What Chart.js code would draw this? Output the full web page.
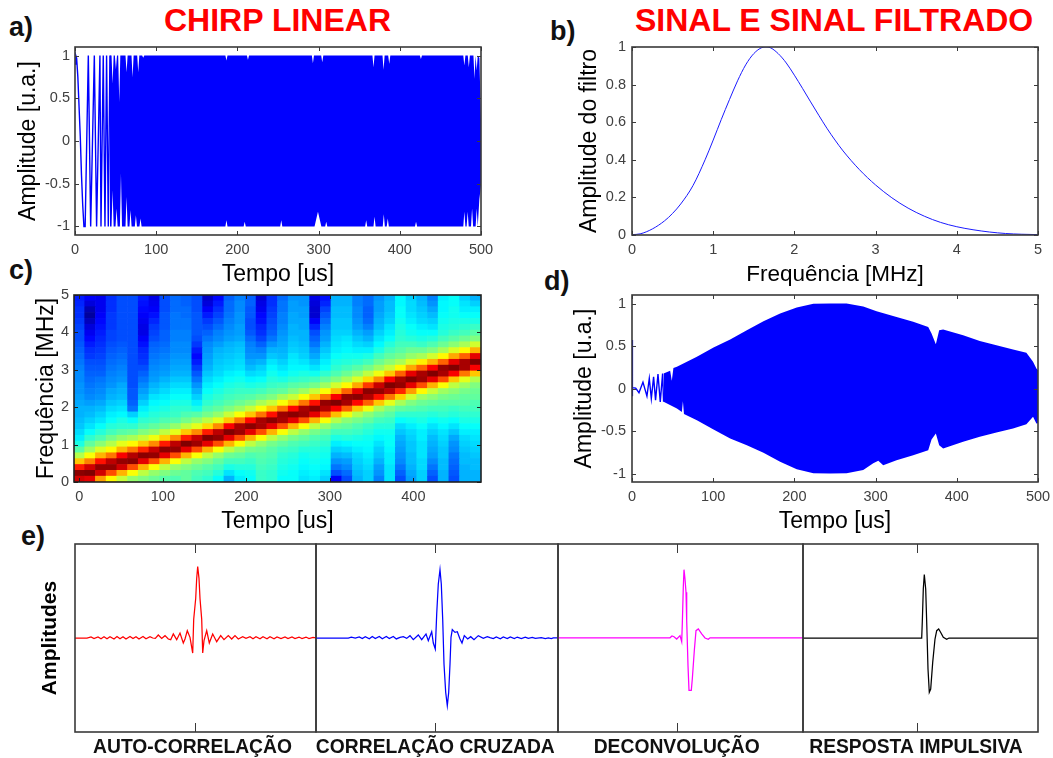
<!DOCTYPE html>
<html lang="pt">
<head>
<meta charset="utf-8">
<title>Chirp linear</title>
<script src="https://cdn.jsdelivr.net/npm/chart.js@4/dist/chart.umd.min.js"></script>
<style>
html,body{margin:0;padding:0;background:#fff;}
#page{position:relative;width:1053px;height:758px;overflow:hidden;background:#fff;filter:blur(.45px);font-family:"Liberation Sans",Arial,sans-serif;}
canvas{position:absolute;display:block;}
.t{position:absolute;white-space:nowrap;font-weight:bold;line-height:1;}
.big{color:#ff0000;font-size:32px;}
.let{color:#111;font-size:27px;}
</style>
</head>
<body>
<div id="page">
  <div class="t big" style="left:164px;top:3.5px">CHIRP LINEAR</div>
  <div class="t big" style="left:635px;top:3.5px">SINAL E SINAL FILTRADO</div>
  <div class="t let" style="left:9px;top:14px">a)</div>
  <div class="t let" style="left:550px;top:18px">b)</div>
  <div class="t let" style="left:9px;top:257px">c)</div>
  <div class="t let" style="left:544px;top:268px">d)</div>
  <div class="t let" style="left:21px;top:523px">e)</div>
</div>
<script>
/* ---------- panel a: linear chirp ---------- */
const chirpEarlyT = [0,1,2,3.5,5,6.5,8,9.5,11,12.5,16.4,19.3,23.8,26.6,30.7,32,34.8,36.9,38.9,41,43];
const chirpEarlyV = [.9,1,.97,.75,.4,.05,-.4,-.75,-1,-1,1,-1,1,-1,1,-1,1,-1,1,-1,1];
const chirpUpperT = [43,45,46.3,47.6,49.1,50.4,51.7,53.2,54.5,55.8,62.2,63.5,64.8,69.6,70.9,72.2,76.6,77.9,79.2,82.7,84,85.3,185.2,186.5,187.8,211.7,213,214.3,291.7,293,294.3,303.2,304.5,305.8,366.3,367.6,368.9,378.7,380,381.3,385.7,387,388.3,424.7,426,427.3,478.2,479.5,480.8,483.7,485,486.3,490.7,492,493.3,494.7,496,498,500];
const chirpUpperV = [1,1,.67,1,1,.84,1,1,.455,1,1,.805,1,1,.747,1,1,.805,1,1,.973,1,1,.942,1,1,.95,1,1,.91,1,1,.922,1,1,.864,1,1,.833,1,1,.903,1,1,.96,1,1,.883,1,1,.864,1,1,.728,1,.825,1,.97,.24];
const chirpLowerT = [43,45,46.3,47.6,49.9,51.2,52.5,55.3,56.6,57.9,62.2,63.5,64.8,67.1,68.4,69.7,73.7,75,76.3,79.4,80.7,82,185.2,186.5,187.8,207.7,209,210.3,252.7,254,255.3,295,299.2,303.4,308.1,309.4,310.7,357.3,358.6,359.9,367.6,368.9,370.2,379,380.3,381.6,383.9,385.2,386.5,418.7,420,421.3,478.2,479.5,480.8,482.3,483.6,484.9,487.7,489,490.3,493.4,494.7,496,498,500];
const chirpLowerV = [-1,-1,-.576,-1,-1,-.79,-1,-1,-.381,-1,-1,-.654,-1,-1,-.81,-1,-1,-.868,-1,-1,-.907,-1,-1,-.926,-1,-1,-.945,-1,-1,-.926,-1,-1,-.829,-1,-1,-.945,-1,-1,-.926,-1,-1,-.887,-1,-1,-.856,-1,-1,-.907,-1,-1,-.945,-1,-1,-.829,-1,-1,-.829,-1,-1,-.79,-1,-1,-.79,-1,-.68,-.52];

/* ---------- panel b: filter ---------- */
const filterF = [0,.1,.25,.4,.5,.6,.75,.9,1,1.1,1.2,1.3,1.4,1.5,1.6,1.65,1.7,1.8,1.9,2,2.1,2.2,2.3,2.4,2.5,2.6,2.8,3,3.2,3.4,3.6,3.8,4,4.2,4.4,4.6,4.8,5];
const filterA = [.002,.006,.032,.075,.115,.165,.262,.40,.505,.615,.72,.82,.905,.965,.997,1,.997,.965,.915,.85,.78,.708,.637,.568,.505,.447,.348,.266,.198,.143,.1,.067,.044,.028,.016,.008,.004,.002];

/* ---------- panel c: spectrogram, one column per time, low to high frequency ---------- */
const specTimes = [0,13,26,38,51,64,77,90,102,115,128,141,154,166,179,192,205,218,230,243,256,269,282,294,307,320,333,346,358,371,384,397,410,422,435,448,461,474];
const spectrogram = [
[92,99,85,68,55,46,40,36,34,32,31,30,30,29,28,27,27,26,26,25,24,23,22,21,20,20,19,18,17,17,16,15],
[90,100,92,75,62,53,47,42,38,35,33,31,30,28,26,25,24,23,22,21,20,18,17,15,13,11,9,6,3,5,9,12],
[72,92,98,86,70,59,51,45,41,38,35,33,31,29,27,26,25,24,22,21,20,19,18,17,16,15,14,13,12,11,11,11],
[63,80,98,94,76,63,55,49,44,41,38,36,34,32,30,29,27,26,25,24,23,22,21,20,19,19,18,18,18,17,17,17],
[57,70,92,98,88,70,60,52,46,42,40,37,35,33,31,30,29,27,26,25,24,23,22,21,20,20,20,20,20,20,20,20],
[52,62,80,99,95,76,63,54,47,42,38,33,24,22,21,21,20,20,20,20,20,20,20,20,20,20,20,20,20,20,20,20],
[50,56,70,90,99,84,68,57,50,45,42,39,36,33,30,28,26,24,22,20,18,17,16,14,12,10,10,11,12,13,14,15],
[48,52,62,80,98,93,74,61,52,47,43,41,39,37,35,32,30,28,27,26,25,24,23,22,20,19,18,16,14,12,11,10],
[46,50,56,70,90,99,85,67,56,49,45,42,40,38,36,34,32,30,28,27,26,25,24,23,22,22,21,21,21,20,20,20],
[45,48,52,62,80,98,94,74,60,52,46,43,42,40,38,36,34,32,30,29,28,27,26,26,25,25,24,24,24,23,23,23],
[47,47,50,56,70,90,100,85,68,56,49,45,42,40,38,36,34,32,30,29,28,27,26,26,25,25,24,24,23,23,22,22],
[44,45,48,52,62,80,97,93,74,60,52,46,40,36,33,30,27,24,21,18,15,13,15,18,20,21,21,21,21,20,20,20],
[42,44,46,50,56,70,90,100,85,66,56,49,45,42,40,38,36,34,32,30,29,28,27,26,24,22,20,18,15,12,9,7],
[38,41,44,47,52,62,80,98,94,74,60,52,47,44,42,40,38,36,34,33,32,31,30,28,26,25,23,21,19,17,15,13],
[30,35,40,44,48,56,70,90,100,88,68,57,50,46,44,42,40,38,36,34,33,32,31,30,28,27,26,25,24,23,23,22],
[36,38,41,44,47,52,62,80,97,96,76,62,53,48,45,43,41,39,37,35,34,33,32,31,29,28,28,27,27,26,26,25],
[38,39,41,43,45,49,56,70,90,99,87,68,57,50,46,43,40,37,34,31,29,27,26,25,23,21,20,20,21,21,22,22],
[43,43,44,45,46,48,52,62,80,96,96,76,62,54,48,44,41,38,35,33,30,27,25,22,19,17,16,14,13,11,10,8],
[42,42,43,44,45,46,49,56,70,90,99,86,68,57,50,46,43,41,39,37,35,32,30,27,24,22,21,20,19,18,17,17],
[38,39,40,41,42,44,47,52,62,80,96,97,76,62,54,47,44,40,37,35,33,31,30,29,28,27,26,25,25,24,24,23],
[38,38,39,40,41,43,45,49,56,70,90,99,87,68,57,50,46,42,39,37,36,35,33,32,31,30,30,29,29,28,28,27],
[35,36,37,38,39,41,44,47,52,62,80,97,96,76,62,53,47,43,40,37,35,33,32,31,30,30,29,29,28,28,27,27],
[36,37,38,39,40,41,43,45,49,56,70,90,99,86,68,57,49,44,39,35,32,29,27,24,22,20,16,12,8,8,9,10],
[33,35,37,38,39,40,42,44,47,52,62,80,95,98,76,62,53,47,42,38,36,34,32,30,28,27,25,23,21,19,16,14],
[12,20,24,27,30,33,36,40,44,48,55,69,88,100,88,69,58,50,45,42,40,38,36,35,34,33,32,32,31,31,30,30],
[20,23,26,28,31,34,37,41,44,47,51,61,78,96,98,78,63,54,48,44,41,39,37,36,35,33,32,32,31,31,30,30],
[30,31,32,33,34,36,38,40,43,45,49,55,68,87,99,90,71,59,51,46,42,39,36,34,32,30,28,27,26,26,25,25],
[33,33,34,35,36,37,38,39,41,43,47,51,61,78,95,99,82,66,56,49,44,40,36,33,30,28,25,23,22,22,23,23],
[25,27,28,30,32,33,35,37,39,41,44,48,54,68,86,98,93,74,61,53,48,44,40,37,35,33,31,30,29,28,28,27],
[35,35,35,36,36,37,38,38,39,41,43,46,50,60,76,94,100,88,68,57,51,47,44,41,38,36,35,33,32,31,31,30],
[20,22,24,26,27,28,29,30,32,34,38,42,47,54,67,84,98,96,78,63,54,49,46,44,42,41,40,39,38,38,37,37],
[28,29,30,31,31,32,32,33,34,36,39,42,46,50,58,72,90,100,90,71,59,52,48,44,41,39,38,36,35,34,34,33],
[33,33,34,34,35,35,35,36,36,38,40,42,45,48,53,63,80,97,96,78,64,54,48,43,40,38,36,34,33,32,31,30],
[20,22,24,26,28,29,30,31,33,35,38,41,44,47,51,57,70,90,100,88,70,58,50,45,41,38,35,33,31,29,27,25],
[30,30,31,31,32,32,33,34,35,37,39,42,44,46,49,53,62,80,96,98,78,63,54,48,44,41,40,39,38,37,37,36],
[20,21,22,23,24,26,27,29,32,35,38,41,43,46,48,51,56,68,88,100,90,71,59,51,46,43,41,40,39,39,38,38],
[30,30,30,31,31,32,33,34,36,38,40,42,44,46,47,49,53,60,76,96,96,78,63,54,48,44,42,40,38,36,35,33],
[30,30,31,31,32,33,34,35,36,38,40,42,44,45,47,48,50,55,68,88,100,90,70,58,50,46,43,40,38,36,33,30]
];
const specRowHeight = 5/32;

/* ---------- panel d: filtered signal ---------- */
const filtEarlyT = [0,0,1,4.5,8.6,13.5,18.4,21.3,23.8,26.6,29,32,34.8,37.7,38.9];
const filtEarlyV = [.57,-.09,.01,.005,-.05,.075,-.09,.118,-.118,.137,-.137,.17,-.157,.176,-.157];
const filtUpperT = [38.9,47,49,51,55.3,79.9,100.4,120.9,141.4,161.9,182.4,202.9,223.4,243.9,264.3,284.8,301.2,325.8,346.3,364.8,368.9,374.2,378.3,383.2,407.8,428.3,448.8,469.3,485.7,493.9,498,500];
const filtUpperV = [.176,.21,.09,.24,.255,.373,.482,.576,.686,.792,.882,.953,.998,1,1,.965,.91,.84,.784,.725,.647,.522,.686,.694,.627,.56,.51,.459,.42,.314,.235,.216];
const filtLowerT = [38.9,55.3,61.4,62.7,64,79.9,100.4,120.9,141.4,161.9,182.4,202.9,223.4,243.9,264.3,284.8,297.1,303.3,309.4,325.8,346.3,364.8,368.9,374.2,378.3,383.2,407.8,428.3,448.8,469.3,485.7,493.9,498,500];
const filtLowerV = [-.157,-.235,-.275,-.15,-.3,-.373,-.482,-.588,-.667,-.757,-.863,-.949,-.998,-1,-.998,-.96,-.88,-.85,-.902,-.843,-.784,-.725,-.6,-.529,-.667,-.706,-.627,-.569,-.518,-.471,-.42,-.333,-.412,-.41];

/* ---------- panel e: correlation traces, lag 0 at the middle tick ---------- */
const autoLag = [-120,-108,-104,-101,-97,-94,-91,-88,-85,-81,-78,-75,-72,-69,-65,-62,-59,-56,-52,-49,-45,-42.3,-39.7,-36.7,-33.3,-30,-26.7,-24.3,-21.7,-18.3,-15,-11.7,-10,-7.7,-5,-2.3,-1.3,.7,1.7,2.7,4,5,6.7,7.7,9,11.7,14.3,17.7,21.7,25.7,29,33.3,36.7,40,43.3,47.7,51,55,58,61,65,68,72,75,79,82,86,90,93,97,100,104,107,111,114,118,121];
const autoAmp = [0,0,.012,-.006,.012,-.008,.014,-.008,.014,-.01,.016,-.008,.014,-.01,.016,-.006,.014,-.01,.016,-.008,.014,0,-.004,.032,-.004,.025,-.011,-.018,.043,-.018,.053,-.053,-.011,.078,.007,-.16,.2,.42,.635,.76,.635,.42,.2,-.16,-.028,.078,-.053,.043,-.039,.025,-.018,.025,-.011,.025,-.011,.014,-.004,.014,-.008,.014,-.008,.014,-.008,.014,-.008,.012,-.006,.012,-.006,.012,-.006,.01,-.006,.01,-.006,.006,0];
const crossLag = [-119.3,-87,-84,-80,-76,-73,-70,-66,-63,-60,-56,-53,-49,-46,-42,-39,-35.3,-32,-28.6,-25.3,-22,-17,-13.6,-9.3,-7,-3.6,-2,0,1.4,3,4.7,6,7.4,8.7,10.4,12,13.4,14.7,15.7,17,19.7,22,24.7,26.7,29,32.4,35.4,38.7,43,48,52,54.7,58,61,65,68,72,75,79,82,86,90,93,97,100,106,110,113,116,118,122.7];
const crossAmp = [0,0,.008,0,.012,-.006,.014,-.008,.016,-.006,.016,-.008,.016,-.006,.016,-.01,.007,.014,-.004,.025,-.018,.032,-.018,.043,-.028,.067,-.053,-.117,.255,.574,.727,.574,.2,-.277,-.578,-.72,-.578,-.277,.007,.089,.06,.067,-.011,-.053,.025,-.011,.014,-.018,.025,-.004,.014,.004,-.006,.012,-.008,.012,-.006,.012,-.006,.01,-.006,.01,-.004,.006,-.004,.004,-.006,0,-.006,.002,0];
const deconvLag = [-118.7,-6.7,-4.7,-2.7,0,3.3,5,5.6,6.6,7.3,8.3,9.3,10,11.3,12.3,14.6,15.6,17.6,19.3,21.6,25,28.3,31.6,33.3,126.3];
const deconvAmp = [.002,.002,.021,.014,-.011,.025,-.039,.149,.539,.727,.628,.486,.184,-.294,-.557,-.557,-.436,-.135,.078,.096,.043,0,-.014,.002,.002];
const impulseLag = [-114,4.7,5.3,6.3,7.3,8.7,9.7,11,12.3,13.7,15.7,18,19.7,21.7,24,26.3,29.7,32,121];
const impulseAmp = [0,0,.174,.521,.674,.521,.167,-.33,-.578,-.543,-.259,-.011,.078,.096,.053,.007,-.014,0,0];

/* ---------- ticks and labels ---------- */
const timeTicks = [0,100,200,300,400,500];
const spectroTimeTicks = [0,100,200,300,400];
const amplitudeTicks = [-1,-.5,0,.5,1];
const filterAmpTicks = [0,.2,.4,.6,.8,1];
const mhzTicks = [0,1,2,3,4,5];
const panelNames = ['AUTO-CORRELAÇÃO','CORRELAÇÃO CRUZADA','DECONVOLUÇÃO','RESPOSTA IMPULSIVA'];

/* ---------- helpers ---------- */
const SANS = '"Liberation Sans", Arial, sans-serif';
const page = document.getElementById('page');
const xy = (xs, ys) => xs.map((x, i) => ({x, y: ys[i]}));

function jet(p){
  const v = p/100;
  const ch = d => Math.round(255*Math.max(0, Math.min(1, 1.5 - Math.abs(4*v - d))));
  return `rgb(${ch(3)},${ch(2)},${ch(1)})`;
}

function framePlugin(opt){
  return {
    id:'frame',
    afterDatasetsDraw(chart){
      const {ctx, chartArea:a, scales} = chart;
      ctx.save();
      ctx.strokeStyle = opt.color || '#3a3a3a';
      ctx.lineWidth = 1;
      ctx.beginPath();
      Object.values(scales).forEach(s => {
        if (!s.options.display || s.options.noMarks) return;
        s.ticks.forEach(t => {
          const p = Math.round(s.getPixelForValue(t.value)) + .5;
          if (s.isHorizontal()){
            ctx.moveTo(p, a.top); ctx.lineTo(p, a.top + opt.len);
            ctx.moveTo(p, a.bottom); ctx.lineTo(p, a.bottom - opt.len);
          } else {
            ctx.moveTo(a.left, p); ctx.lineTo(a.left + opt.len, p);
            ctx.moveTo(a.right, p); ctx.lineTo(a.right - opt.len, p);
          }
        });
      });
      ctx.stroke();
      ctx.lineWidth = 1.6;
      ctx.strokeRect(a.left, a.top, a.right - a.left, a.bottom - a.top);
      ctx.restore();
    }
  };
}

function axis(o){
  const bottom = o.pos === 'bottom';
  return {
    type:'linear', position:o.pos, min:o.min, max:o.max, offset:false, noMarks:!!o.noMarks,
    afterFit:s => {
      if (bottom) s.height = o.size; else s.width = o.size;
      s.paddingTop = s.paddingBottom = s.paddingLeft = s.paddingRight = 0;
    },
    afterBuildTicks:s => { s.ticks = o.ticks.map(v => ({value:v})); },
    grid:{display:false, drawTicks:false},
    border:{display:false},
    ticks:{display:o.showTicks !== false, autoSkip:false, maxRotation:0, minRotation:0, padding:o.pad,
      labelOffset:o.labelOffset || 0,
      color:o.tickColor || '#404040', font:o.tickFont || {family:SANS, size:14.5},
      callback:o.cb || (v => String(v))},
    title:{display:!!o.title, text:o.title, color:'#000',
      font:o.titleFont || {family:SANS, size:23}, padding:{top:o.titlePad || 0, bottom:0}}
  };
}

function mount(box, config){
  const c = document.createElement('canvas');
  c.width = box.w; c.height = box.h;
  c.style.left = box.x + 'px'; c.style.top = box.y + 'px';
  c.style.width = box.w + 'px'; c.style.height = box.h + 'px';
  page.appendChild(c);
  config.options = Object.assign({
    responsive:false, animation:false, devicePixelRatio:1,
    plugins:{legend:{display:false}, tooltip:{enabled:false}, title:{display:false}},
  }, config.options);
  return new Chart(c, config);
}

const lineSet = (data, color, extra) => Object.assign(
  {data, borderColor:color, backgroundColor:color, borderWidth:1, pointRadius:0, tension:0, fill:false}, extra);

function envelopeChart(box, pad, xAxis, yAxis, early, upper, lower){
  mount(box, {
    type:'line',
    data:{datasets:[
      lineSet(early,'#0000ff',{borderWidth:1.4}),
      lineSet(upper,'#0000ff',{borderWidth:0}),
      lineSet(lower,'#0000ff',{borderWidth:0, fill:'-1'})
    ]},
    options:{layout:{padding:pad}, scales:{x:xAxis, y:yAxis}},
    plugins:[framePlugin({len:4})]
  });
}

/* a */
envelopeChart({x:0,y:40,w:500,h:248},{top:7,right:19,left:0,bottom:0},
  axis({pos:'bottom',min:0,max:500,ticks:timeTicks,size:53,pad:6.5,title:'Tempo [us]'}),
  axis({pos:'left',min:-1.1,max:1.1,ticks:amplitudeTicks,size:75,pad:5,title:'Amplitude [u.a.]',titlePad:15}),
  xy(chirpEarlyT,chirpEarlyV), xy(chirpUpperT,chirpUpperV), xy(chirpLowerT,chirpLowerV));

/* b */
mount({x:545,y:40,w:508,h:248},{
  type:'line',
  data:{datasets:[lineSet(xy(filterF,filterA),'#1a1aff',{cubicInterpolationMode:'monotone'})]},
  options:{layout:{padding:{top:7,right:15,left:0,bottom:0}}, scales:{
    x:axis({pos:'bottom',min:0,max:5,ticks:mhzTicks,size:53,pad:6.5,title:'Frequência [MHz]',titleFont:{family:SANS,size:22.5}}),
    y:axis({pos:'left',min:0,max:1,ticks:filterAmpTicks,size:87,pad:6,title:'Amplitude do filtro',titlePad:31})
  }},
  plugins:[framePlugin({len:4})]
});

/* c */
const yMhz = axis({pos:'left',min:0,max:5,ticks:mhzTicks,size:74,pad:5,title:'Frequência [MHz]',titlePad:33});
yMhz.stacked = true;
mount({x:0,y:288,w:500,h:247},{
  type:'bar',
  data:{labels:specTimes, datasets:spectrogram[0].map((_, r) => ({
    data:spectrogram.map(() => specRowHeight),
    backgroundColor:spectrogram.map(col => jet(col[r])),
    borderWidth:0, categoryPercentage:1, barPercentage:1
  }))},
  options:{layout:{padding:{top:7,right:19,left:0,bottom:0}}, scales:{
    x:{type:'category',display:false,stacked:true,offset:true},
    xT:axis({pos:'bottom',min:-6.4,max:481,ticks:spectroTimeTicks,size:53,pad:6.5,title:'Tempo [us]'}),
    y:yMhz
  }},
  plugins:[framePlugin({len:4,color:'#202020'})]
});

/* d */
envelopeChart({x:545,y:288,w:508,h:247},{top:7,right:15,left:0,bottom:0},
  axis({pos:'bottom',min:0,max:500,ticks:timeTicks,size:53,pad:6.5,title:'Tempo [us]'}),
  axis({pos:'left',min:-1.1,max:1.1,ticks:amplitudeTicks,size:87,pad:6,title:'Amplitude [u.a.]',titlePad:26}),
  xy(filtEarlyT,filtEarlyV), xy(filtUpperT,filtUpperV), xy(filtLowerT,filtLowerV));

/* e */
const labelFont = {family:SANS, size:19.3, weight:'bold'};
function tracePanel(box, padLeft, padRight, range, name, shift, data, color, yTitle){
  const yA = axis({pos:'left',min:-1,max:1,ticks:[],size:yTitle ? 75 : 0,noMarks:true,showTicks:false,
    title:yTitle, titlePad:38, titleFont:{family:SANS,size:21,weight:'bold'}});
  if (!yTitle) yA.display = false;
  mount(box,{
    type:'line',
    data:{datasets:[lineSet(data,color,{borderWidth:1.25})]},
    options:{layout:{padding:{top:7,right:padRight,left:padLeft,bottom:0}}, scales:{
      x:axis({pos:'bottom',min:range[0],max:range[1],ticks:[0],size:26,pad:4,labelOffset:shift,
        cb:() => name, tickFont:labelFont, tickColor:'#111'}),
      y:yA
    }},
    plugins:[framePlugin({len:9})]
  });
}
tracePanel({x:0,y:537,w:328,h:221},0,12,[-120,121],panelNames[0],-2.5,xy(autoLag,autoAmp),'#ff0000','Amplitudes');
tracePanel({x:304,y:537,w:266,h:221},12,12,[-119.3,122.7],panelNames[1],0,xy(crossLag,crossAmp),'#0000ff');
tracePanel({x:546,y:537,w:269,h:221},12,12,[-118.7,126.3],panelNames[2],0,xy(deconvLag,deconvAmp),'#ff00ff');
tracePanel({x:791,y:537,w:259,h:221},12,12,[-114,121],panelNames[3],-1,xy(impulseLag,impulseAmp),'#000000');
</script>
</body>
</html>
